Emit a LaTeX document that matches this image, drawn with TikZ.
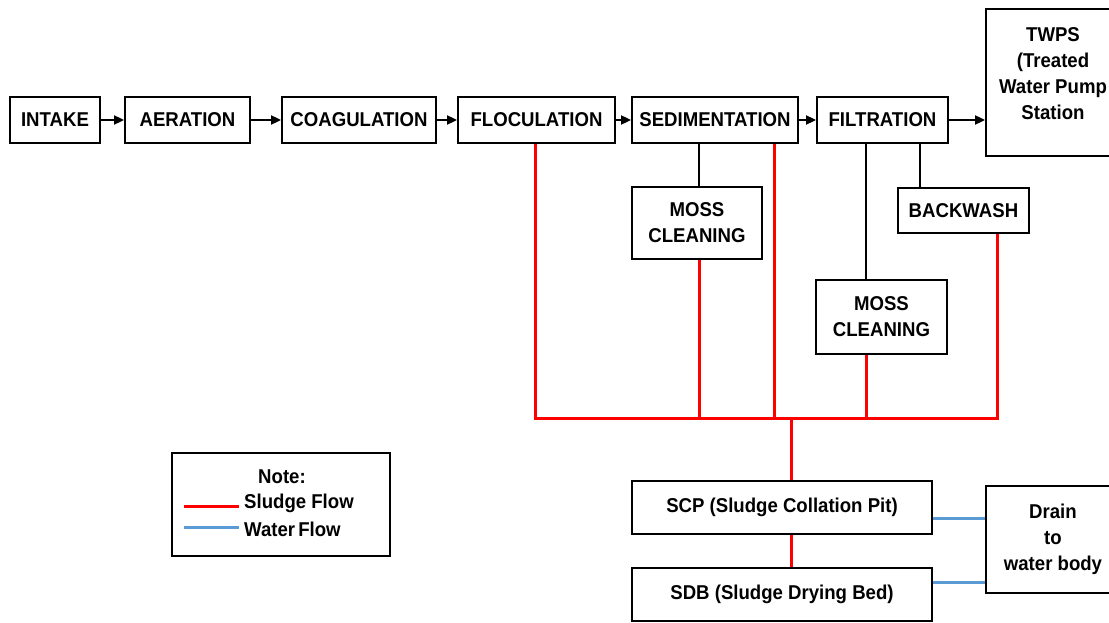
\documentclass[tikz,border=0pt]{standalone}
\usepackage{fontspec}
\setmainfont{Liberation Sans}[FakeStretch=0.93]
\usetikzlibrary{arrows.meta,calc}
\definecolor{waterblue}{RGB}{91,155,213}
\begin{document}
\begin{tikzpicture}[x=1pt,y=-1pt,
  box/.style={draw, line width=1.8pt, inner sep=0pt, font=\fontsize{20}{26}\selectfont\bfseries, align=center},
  lbl/.style={inner sep=0pt, font=\fontsize{20}{26}\selectfont\bfseries, align=center},
  flow/.style={line width=1.8pt, -{Triangle[length=10pt,width=9pt]}},
  link/.style={line width=1.8pt},
  sludge/.style={draw=red, line width=3pt},
  water/.style={draw=waterblue, line width=3pt}]
\useasboundingbox (0,0) rectangle (1109,623);
\clip (0,0) rectangle (1109,623);
\fill[white] (0,0) rectangle (1109,623);

% main line
\node[box, minimum width=90, minimum height=46] (intake) at (55,120) {INTAKE};
\node[box, minimum width=125, minimum height=46] (aeration) at (187.5,120) {AERATION};
\node[box, minimum width=154, minimum height=46] (coag) at (359,120) {COAGULATION};
\node[box, minimum width=157, minimum height=46] (floc) at (536.5,120) {FLOCULATION};
\node[box, minimum width=166, minimum height=46] (sed) at (715,120) {SEDIMENTATION};
\node[box, minimum width=131, minimum height=46] (filt) at (882.5,120) {FILTRATION};
\node[box, minimum width=134, minimum height=147] (twps) at (1053,82.5) {};
\node[lbl] (twpslabel) at (1053,74) {TWPS\\(Treated\\Water Pump\\Station};

\draw[flow] (intake) -- (aeration);
\draw[flow] (aeration) -- (coag);
\draw[flow] (coag) -- (floc);
\draw[flow] (floc) -- (sed);
\draw[flow] (sed) -- (filt);
\draw[flow] (filt.east) -- (filt.east -| twps.west);

% side units
\node[box, minimum width=130, minimum height=72] (moss1) at (697,223) {MOSS\\CLEANING};
\node[box, minimum width=131, minimum height=45] (backwash) at (963.5,210.5) {BACKWASH};
\node[box, minimum width=131, minimum height=74] (moss2) at (881.5,317) {MOSS\\CLEANING};

\draw[link] ([xshift=2pt]moss1.north) -- ([xshift=2pt]moss1.north |- sed.south);
\draw[link] ([xshift=-15.5pt]moss2.north) -- ([xshift=-15.5pt]moss2.north |- filt.south);
\draw[link] ([xshift=-43.5pt]backwash.north) -- ([xshift=-43.5pt]backwash.north |- filt.south);

% sludge collection
\coordinate (bus) at (791,418);
\draw[sludge] ([xshift=-1.5pt]floc.south) |- ([xshift=33.5pt]backwash.south |- bus) -- ([xshift=33.5pt]backwash.south);
\draw[sludge] ([xshift=59pt]sed.south) -- ([xshift=59pt]sed.south |- bus);
\draw[sludge] ([xshift=2pt]moss1.south) -- ([xshift=2pt]moss1.south |- bus);
\draw[sludge] ([xshift=-15.5pt]moss2.south) -- ([xshift=-15.5pt]moss2.south |- bus);

\node[box, minimum width=300, minimum height=53] (scp) at (782,507.5) {SCP (Sludge Collation Pit)};
\node[box, minimum width=300, minimum height=53] (sdb) at (782,594.5) {SDB (Sludge Drying Bed)};
\node[box, minimum width=134, minimum height=107] (drain) at (1053,539.5) {Drain\\to\\water body};

\draw[sludge] (bus) -- (bus |- scp.north);
\draw[sludge] (bus |- scp.south) -- (bus |- sdb.north);

\draw[water] (scp.east |- 0,518) -- (drain.west |- 0,518);
\draw[water] (sdb.east |- 0,582) -- (drain.west |- 0,582);

% legend
\node[box, minimum width=218, minimum height=103] (note) at (281,504.5) {};
\node[lbl] (notetitle) at (282,477) {Note:};
\coordinate (rs) at (184,506);
\coordinate (re) at (239,506);
\coordinate (bs) at (184,527);
\coordinate (be) at (239,527);
\draw[sludge] (rs) -- (re);
\draw[water] (bs) -- (be);
\node[lbl, anchor=west] (sludgelbl) at (244,503) {Sludge Flow};
\node[lbl, anchor=west] (waterlbl) at (244,529) {Water\kern-2pt\ Flow};
\end{tikzpicture}
\end{document}
